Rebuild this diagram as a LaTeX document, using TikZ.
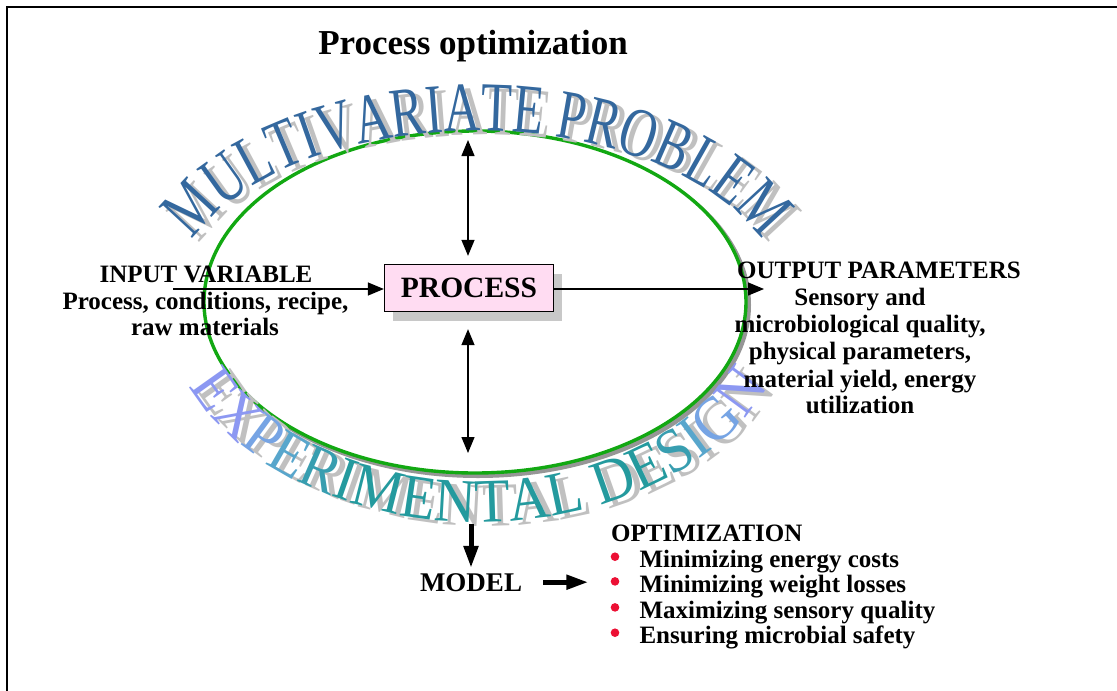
\documentclass[tikz,border=0pt]{standalone}
\usepackage{fontspec}
\setmainfont{Liberation Serif}
\newfontfamily\archtopfont[FakeStretch=0.72]{Liberation Serif}
\newfontfamily\archbotfont[FakeStretch=0.93]{Liberation Serif}
\usetikzlibrary{arrows.meta,decorations.text,shadows}

\definecolor{ringgreen}{RGB}{18,168,18}
\definecolor{ringshade}{RGB}{150,150,150}
\definecolor{archblue}{RGB}{52,104,158}
\definecolor{archshade}{RGB}{192,192,192}
\definecolor{boxpink}{RGB}{255,220,242}
\definecolor{boxshade}{RGB}{200,200,200}
\definecolor{dotred}{RGB}{236,16,52}
\definecolor{gA}{RGB}{140,152,242}
\definecolor{gB}{RGB}{118,164,228}
\definecolor{gC}{RGB}{88,166,204}
\definecolor{gD}{RGB}{56,158,176}
\definecolor{gE}{RGB}{36,154,158}

% formats for the curved headings
\newcommand{\topfmt}{\archtopfont\fontsize{70}{70}\selectfont}
\newcommand{\botfmt}{\archbotfont\fontsize{62}{62}\selectfont}

\begin{document}
\begin{tikzpicture}[x=1pt,y=1pt,
  txt/.style={font=\fontsize{25}{25}\selectfont\bfseries, inner sep=0pt, anchor=base},
  thin arrow/.style={line width=1.3pt, -{Triangle[length=16pt,width=13pt]}},
  both arrow/.style={line width=1.3pt, {Triangle[length=16pt,width=13pt]}-{Triangle[length=16pt,width=13pt]}},
  fat arrow/.style={line width=5pt, -{Triangle[length=22pt,width=14pt]}},
  toparc/.style={decorate, decoration={text along path, text align=center, text={#1}}},
]
\useasboundingbox (0,0) rectangle (1117,-691);
\fill[white] (0,0) rectangle (1117,-691);

% page frame
\draw[line width=1.8pt] (7,-691) -- (7,-7) -- (1117,-7);

% title
\node[font=\fontsize{35}{35}\selectfont\bfseries, inner sep=0pt, anchor=base] (title) at (473,-54) {Process optimization};

% green ring with its shadow
\fill[ringshade] (478,-305) ellipse[x radius=273pt, y radius=173pt];
\draw[ringgreen, line width=3.4pt, fill=white] (475,-302) ellipse[x radius=271pt, y radius=171pt];

% upper arched heading
\path[toparc={|\topfmt\color{archshade}|MULTIVARIATE PROBLEM}, xshift=7pt, yshift=-4pt]
  ([shift={(172:305pt and 171pt)}]477,-302) arc[start angle=172, end angle=8, x radius=305pt, y radius=171pt];
\path[toparc={|\topfmt\color{archblue}|MULTIVARIATE PROBLEM}]
  ([shift={(172:305pt and 171pt)}]477,-302) arc[start angle=172, end angle=8, x radius=305pt, y radius=171pt];

% lower arched heading
\path[toparc={|\botfmt\color{archshade}|EXPERIMENTAL DESIGN}, xshift=8pt, yshift=-4pt]
  ([shift={(195:313pt and 220pt)}]479,-302) arc[start angle=195, end angle=345, x radius=313pt, y radius=220pt];
\path[toparc={|\botfmt\color{gA}|EX|\botfmt\color{gB}|P|\botfmt\color{gC}|E|\botfmt\color{gD}|R|\botfmt\color{gE}|IMENTAL DE|\botfmt\color{gD}|S|\botfmt\color{gC}|I|\botfmt\color{gB}|G|\botfmt\color{gA}|N}]
  ([shift={(195:313pt and 220pt)}]479,-302) arc[start angle=195, end angle=345, x radius=313pt, y radius=220pt];

% central process box
\node[draw, line width=1.3pt, fill=boxpink, minimum width=169pt, minimum height=47pt, inner sep=0pt,
      font=\fontsize{29.5}{29.5}\selectfont\bfseries,
      drop shadow={shadow xshift=8pt, shadow yshift=-9pt, fill=boxshade, opacity=1}]
      (proc) at (469,-288) {PROCESS};

% input side
\node[txt] (in1) at (206,-282) {INPUT VARIABLE};
\node[txt] (in2) at (205.5,-309) {Process, conditions, recipe,};
\node[txt] (in3) at (205,-335) {raw materials};
\coordinate (inStart) at (173,-289);
\draw[thin arrow] (inStart) -- (inStart -| proc.west);

% output side
\node[txt] (out0) at (879,-278) {OUTPUT PARAMETERS};
\node[txt] (out1) at (860,-305) {Sensory and};
\node[txt] (out2) at (860,-332) {microbiological quality,};
\node[txt] (out3) at (860,-359.5) {physical parameters,};
\node[txt] (out4) at (860,-387) {material yield, energy};
\node[txt] (out5) at (860,-413) {utilization};
\coordinate (outEnd) at (764,-289);
\draw[thin arrow] (proc.east |- outEnd) -- (outEnd);

% vertical two-way arrows
\coordinate (upEnd) at (468,-140);
\draw[both arrow, shorten >=8pt] (upEnd) -- (upEnd |- proc.north);
\coordinate (downEnd) at (468,-453);
\draw[both arrow, shorten <=17pt] (downEnd |- proc.south) -- (downEnd);

% model and optimization
\node[txt, font=\fontsize{27}{27}\selectfont\bfseries] (model) at (471,-591) {MODEL};
\coordinate (modelIn) at (471,-524);
\draw[fat arrow, shorten >=5pt] (modelIn) -- (modelIn |- model.north);

\node[txt, anchor=base west] (opt0) at (611,-541.5) {OPTIMIZATION};
\node[txt, anchor=base west] (opt1) at (639.3,-567.3) {Minimizing energy costs};
\node[txt, anchor=base west] (opt2) at (639.3,-592) {Minimizing weight losses};
\node[txt, anchor=base west] (opt3) at (639.3,-618) {Maximizing sensory quality};
\node[txt, anchor=base west] (opt4) at (639.3,-643.3) {Ensuring microbial safety};
\foreach \k in {1,2,3,4}
  \fill[dotred] ([xshift=-24.3pt, yshift=10.6pt]opt\k.base west) circle (4.3pt);

\draw[fat arrow] ([xshift=21pt]model.east) -- ([xshift=-51pt]model.east -| opt2.west);
\end{tikzpicture}
\end{document}
